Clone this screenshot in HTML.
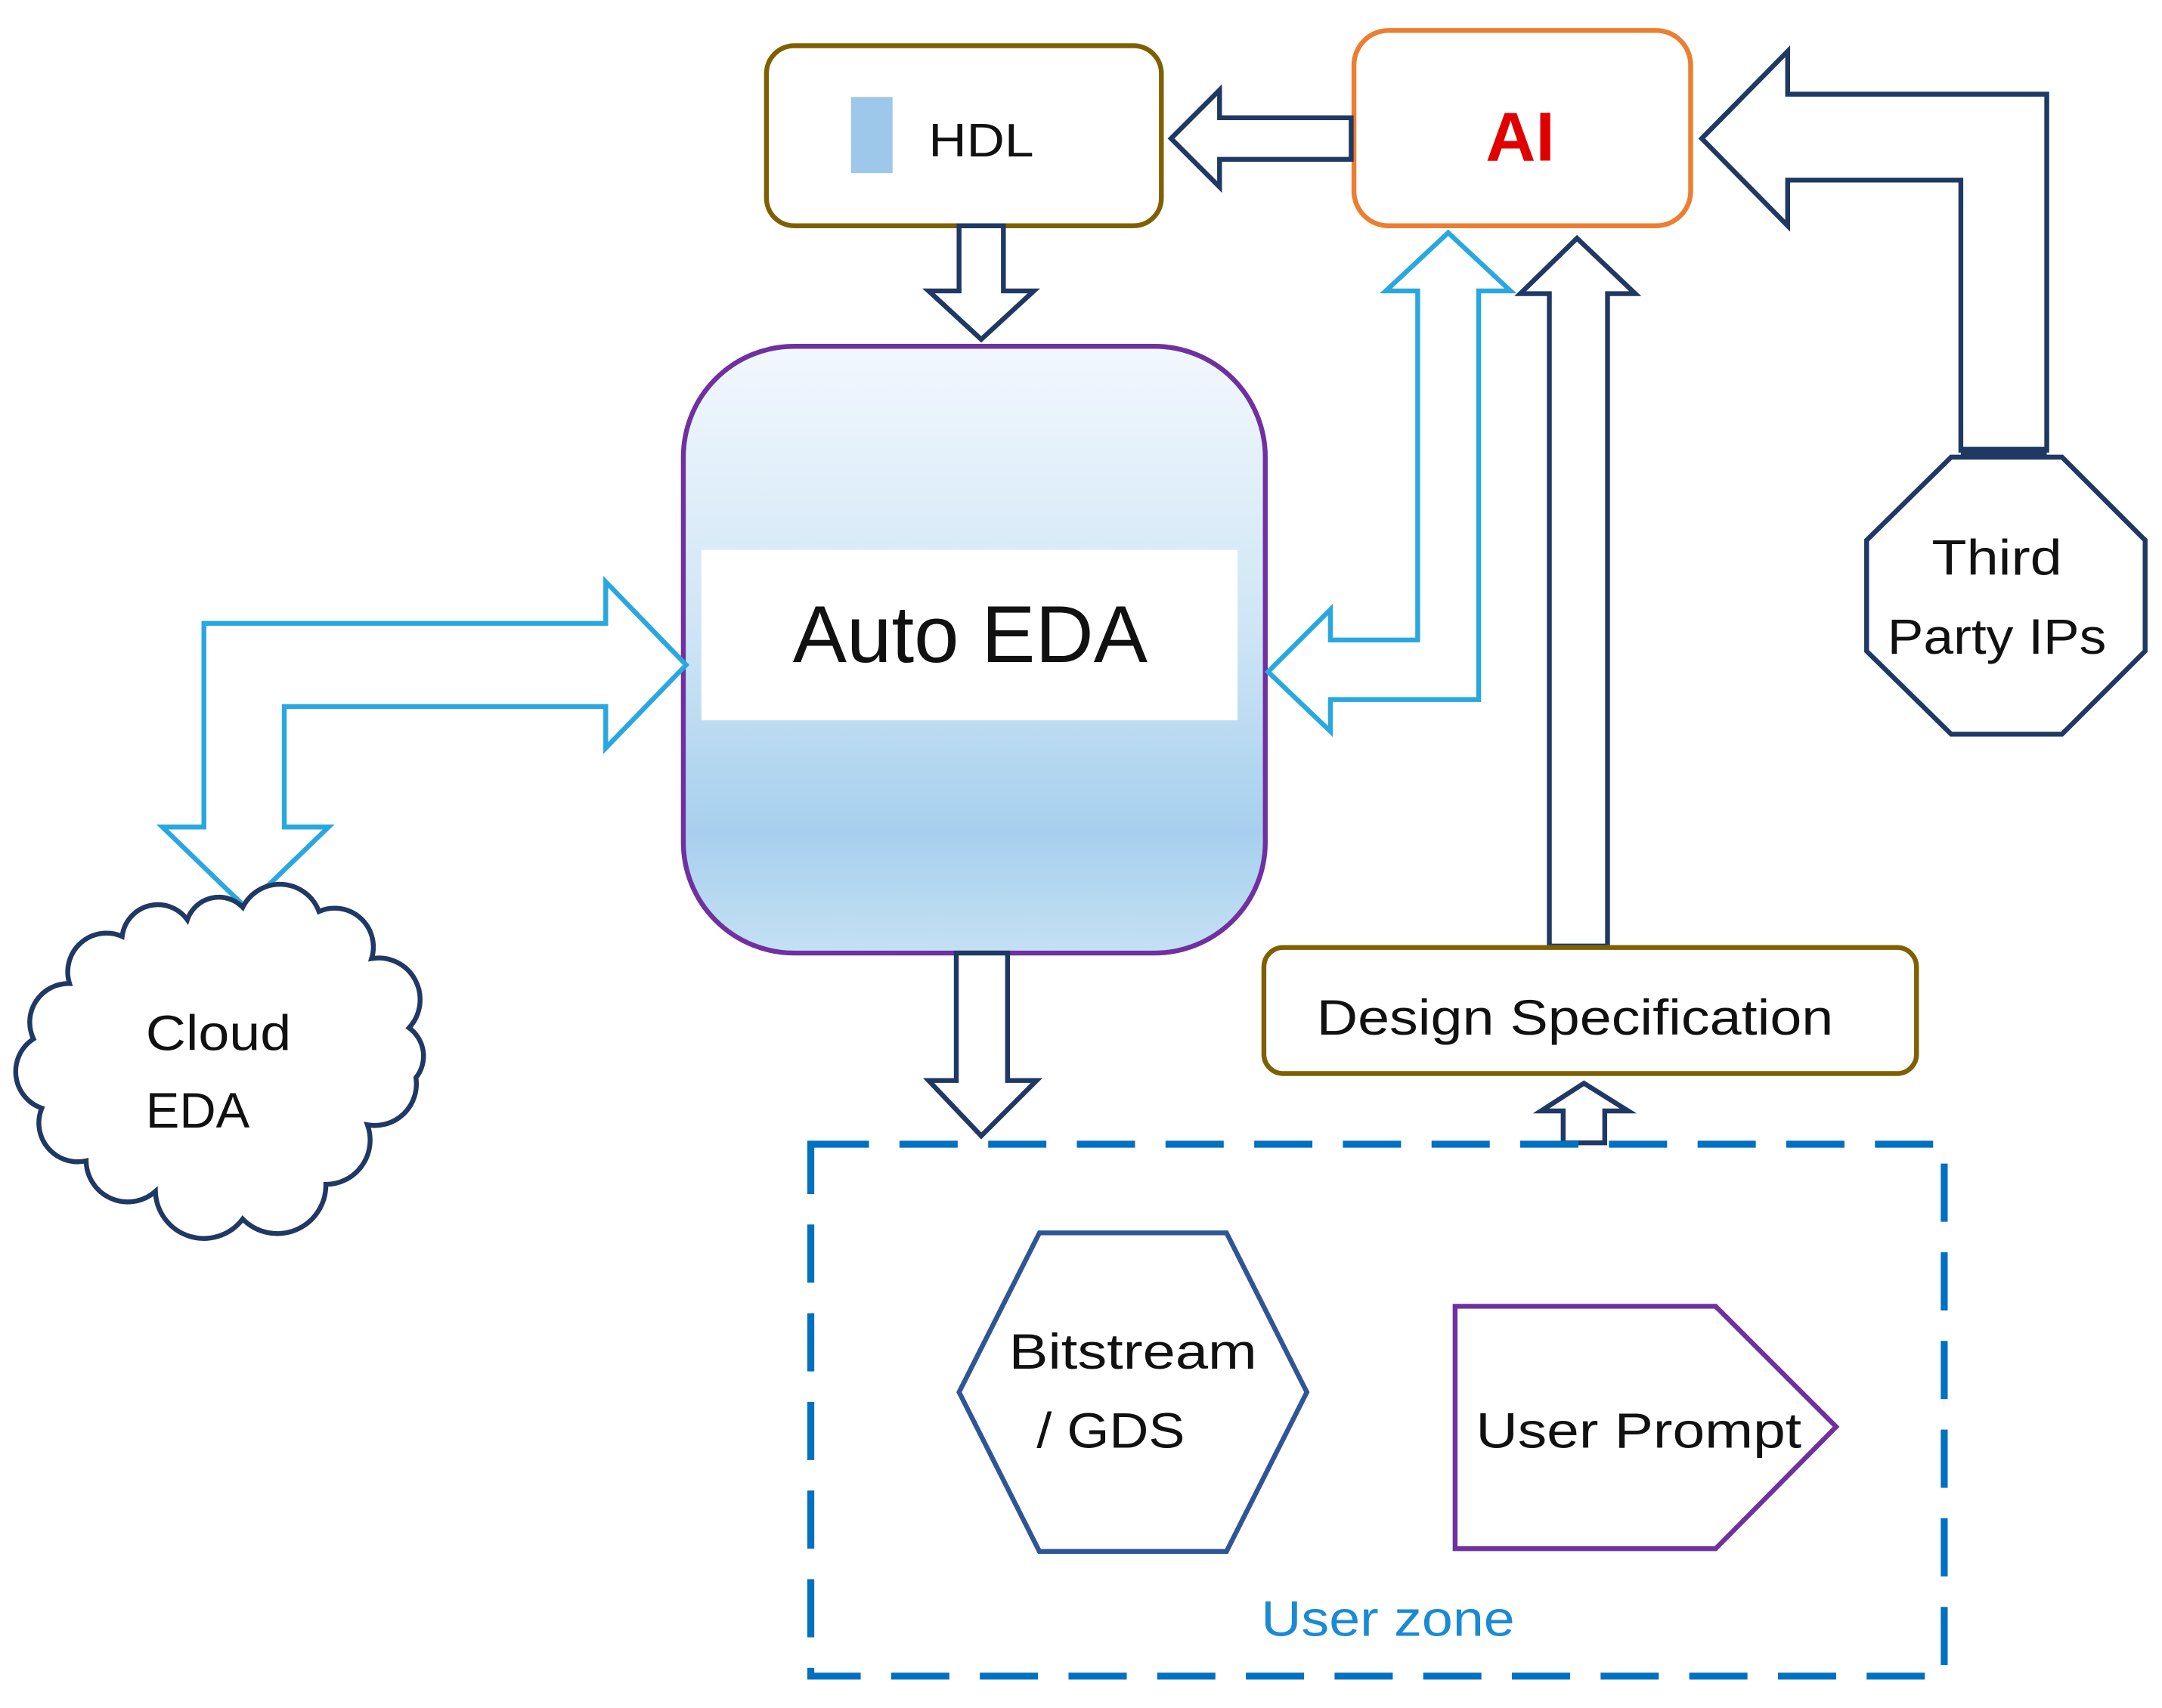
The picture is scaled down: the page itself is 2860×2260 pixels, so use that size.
<!DOCTYPE html>
<html><head><meta charset="utf-8"><style>
html,body{margin:0;padding:0;background:#fff;}
svg{display:block;}
text{font-family:"Liberation Sans",sans-serif;}
</style></head><body>
<svg width="2860" height="2260" viewBox="0 0 1560 1233" xmlns="http://www.w3.org/2000/svg">
<defs>
<linearGradient id="g" x1="0" y1="0" x2="0" y2="1">
<stop offset="0" stop-color="#f2f8fd"/>
<stop offset="0.45" stop-color="#d0e6f6"/>
<stop offset="0.8" stop-color="#a7d0ee"/>
<stop offset="1" stop-color="#c4e0f4"/>
</linearGradient>
</defs>
<rect width="1560" height="1233" fill="#fff"/>

<rect x="553" y="33" width="285" height="130" rx="20" fill="#fff" stroke="#7f6000" stroke-width="3.5"/>
<rect x="614" y="70" width="30" height="55" fill="#9dc8ea"/>
<text x="670" y="113" font-size="34" fill="#111" textLength="76" lengthAdjust="spacingAndGlyphs">HDL</text>

<rect x="977" y="22" width="243" height="141" rx="25" fill="#fff" stroke="#ED7D31" stroke-width="3.5"/>
<text x="1097" y="116" font-size="50" font-weight="bold" fill="#e00000" text-anchor="middle">AI</text>

<polygon points="845,100 880,65 880,85 975,85 975,115 880,115 880,135" fill="#fff" stroke="#1F3864" stroke-width="3.5"/>

<polygon points="692,163 724,163 724,210 746,210 708,245 670,210 692,210" fill="#fff" stroke="#1F3864" stroke-width="3.5"/>

<rect x="493" y="250" width="420" height="438" rx="80" fill="url(#g)" stroke="#7030A0" stroke-width="3.5"/>
<rect x="506" y="397" width="387" height="123" fill="#fff"/>
<text x="572" y="478" font-size="58" fill="#111" textLength="256" lengthAdjust="spacingAndGlyphs">Auto EDA</text>

<polygon points="495,480 437,420 437,450 147,450 147,597 117,597 177,655 237,597 205,597 205,510 437,510 437,540" fill="#fff" stroke="#29A8E0" stroke-width="3.5"/>

<path d="M175,655 A30,30 0 0 1 230,658 A28,28 0 0 1 268,692 A30,30 0 0 1 295,742 A25,25 0 0 1 300,778 A30,30 0 0 1 265,812 A32,32 0 0 1 235,855 A35,35 0 0 1 175,880 A35,35 0 0 1 112,860 A30,30 0 0 1 62,838 A28,28 0 0 1 30,800 A28,28 0 0 1 24,750 A28,28 0 0 1 50,710 A28,28 0 0 1 88,676 A26,26 0 0 1 135,664 A24,24 0 0 1 175,655 Z" fill="#fff" stroke="#1F3864" stroke-width="3.5"/>
<text x="105" y="758" font-size="36" fill="#111" textLength="105" lengthAdjust="spacingAndGlyphs">Cloud</text>
<text x="105" y="814" font-size="36" fill="#111" textLength="75" lengthAdjust="spacingAndGlyphs">EDA</text>

<polygon points="1045,168 1090,210 1067,210 1067,505 960,505 960,528 915,485 960,440 960,462 1023,462 1023,210 1000,210" fill="#fff" stroke="#29A8E0" stroke-width="3.5"/>

<polygon points="1138,172 1180,212 1160,212 1160,683 1118,683 1118,212 1097,212" fill="#fff" stroke="#1F3864" stroke-width="3.5"/>

<polygon points="1228,100 1290,37 1290,68 1477,68 1477,325 1415,325 1415,130 1290,130 1290,163" fill="#fff" stroke="#1F3864" stroke-width="3.5"/>
<line x1="1415" y1="326" x2="1477" y2="326" stroke="#1F3864" stroke-width="7"/>

<polygon points="1408,330 1488,330 1548,390 1548,470 1488,530 1408,530 1347,470 1347,390" fill="#fff" stroke="#1F3864" stroke-width="3.5"/>
<text x="1394" y="415" font-size="36" fill="#111" textLength="94" lengthAdjust="spacingAndGlyphs">Third</text>
<text x="1362" y="472" font-size="36" fill="#111" textLength="158" lengthAdjust="spacingAndGlyphs">Party IPs</text>

<rect x="912" y="684" width="471" height="91" rx="14" fill="#fff" stroke="#7f6000" stroke-width="3.5"/>
<text x="950" y="747" font-size="36" fill="#111" textLength="373" lengthAdjust="spacingAndGlyphs">Design Specification</text>

<polygon points="690,688 727,688 727,780 748,780 708,820 670,780 690,780" fill="#fff" stroke="#1F3864" stroke-width="3.5"/>

<polygon points="1143,782 1175,802 1158,802 1158,825 1128,825 1128,802 1112,802" fill="#fff" stroke="#1F3864" stroke-width="3.5"/>

<rect x="585" y="826" width="818" height="384" fill="none" stroke="#0070C0" stroke-width="5" stroke-dasharray="42,22"/>

<polygon points="750,890 885,890 943,1005 885,1120 750,1120 692,1005" fill="#fff" stroke="#2F5597" stroke-width="3.5"/>
<text x="728" y="988" font-size="36" fill="#111" textLength="179" lengthAdjust="spacingAndGlyphs">Bitstream</text>
<text x="748" y="1045" font-size="36" fill="#111" textLength="107" lengthAdjust="spacingAndGlyphs">/ GDS</text>

<polygon points="1050,943 1238,943 1325,1030 1238,1118 1050,1118" fill="#fff" stroke="#7030A0" stroke-width="3.5"/>
<text x="1065" y="1045" font-size="36" fill="#111" textLength="235" lengthAdjust="spacingAndGlyphs">User Prompt</text>

<text x="910" y="1181" font-size="36" fill="#1a8ad4" textLength="183" lengthAdjust="spacingAndGlyphs">User zone</text>
</svg>
</body></html>
